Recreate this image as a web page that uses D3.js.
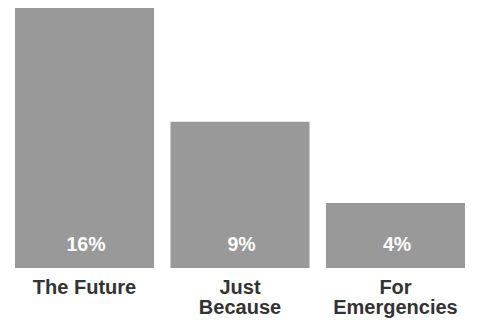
<!DOCTYPE html>
<html>
<head>
<meta charset="utf-8">
<script src="https://cdn.jsdelivr.net/npm/d3@7"></script>
<style>
  body { margin: 0; background: #fff; }
  text { font-family: "Liberation Sans", Arial, Helvetica, sans-serif; font-weight: bold; }
</style>
</head>
<body>
<svg width="482" height="320"></svg>
<script>
let svg = d3.select("svg");

const categories = [["The Future"], ["Just", "Because"], ["For", "Emergencies"]];
const values = [16, 9, 4];

let x = d3.scaleBand()
  .domain(d3.range(values.length))
  .range([15, 465])
  .paddingInner(0.106)
  .paddingOuter(0);

let y = d3.scaleLinear()
  .domain([0, 16])
  .range([268, 8]);

let bar = svg.append("g")
  .selectAll("g")
  .data(values)
  .enter().append("g");

bar.append("rect")
  .attr("x", (d, i) => x(i))
  .attr("y", d => y(d))
  .attr("width", x.bandwidth())
  .attr("height", d => y(0) - y(d))
  .attr("fill", "#999999");

bar.append("text")
  .attr("x", (d, i) => x(i) + x.bandwidth() / 2 + 1.5)
  .attr("y", y(0) - 17)
  .attr("text-anchor", "middle")
  .attr("fill", "#fff")
  .style("font-size", "19.5px")
  .text(d => d + "%");

let label = svg.append("g")
  .selectAll("text")
  .data(categories)
  .enter().append("text")
  .attr("x", (d, i) => x(i) + x.bandwidth() / 2)
  .attr("y", 294)
  .attr("text-anchor", "middle")
  .attr("fill", "#333")
  .style("font-size", "20px");

label.selectAll("tspan")
  .data(d => d)
  .enter().append("tspan")
  .attr("x", function () { return this.parentNode.getAttribute("x"); })
  .attr("dy", (d, i) => i ? 20 : 0)
  .text(d => d);
</script>
</body>
</html>
